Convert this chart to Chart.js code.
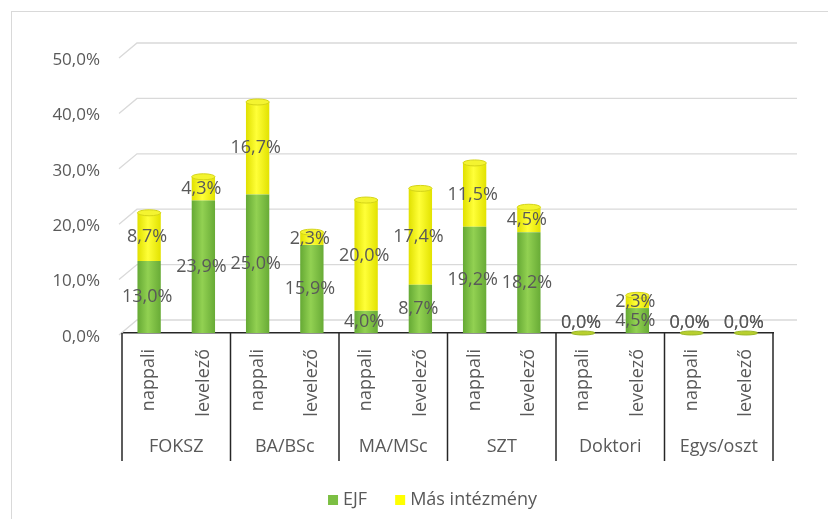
<!DOCTYPE html>
<html>
<head>
<meta charset="utf-8">
<script src="https://cdn.jsdelivr.net/npm/chart.js@4"></script>
<style>
  body { margin: 0; background: #fff; }
  #wrap { position: relative; width: 828px; height: 519px; }
  #frame { position: absolute; left: 11px; top: 11px; right: 0; bottom: 0;
           border-top: 1px solid #d9d9d9; border-left: 1px solid #d9d9d9; pointer-events: none; }
</style>
</head>
<body>
<div id="wrap">
  <canvas id="chart" width="828" height="519"></canvas>
  <div id="frame"></div>
</div>
<script>
// categories (inner level) and groups (outer level)
const categories = ["nappali", "levelező", "nappali", "levelező", "nappali", "levelező",
                    "nappali", "levelező", "nappali", "levelező", "nappali", "levelező"];
const groups = ["FOKSZ", "BA/BSc", "MA/MSc", "SZT", "Doktori", "Egys/oszt"];

// series values in percent
const ejf = [13.0, 23.9, 25.0, 15.9, 4.0, 8.7, 19.2, 18.2, 0.0, 4.5, 0.0, 0.0];
const masIntezmeny = [8.7, 4.3, 16.7, 2.3, 20.0, 17.4, 11.5, 4.5, 0.0, 2.3, 0.0, 0.0];

const yMax = 50;
const yStep = 10;

const FONT = "'Open Sans', Lato, sans-serif";
const TEXT = "#595959";
const BAR_PCT = 0.43;
const GREEN = "#7cbf43";
const YELLOW = "#ffff00";

function pct(v) {
  return v.toFixed(1).replace(".", ",") + "%";
}

// horizontal gradient to fake the cylinder look
function cylinder(stops, flat) {
  return function(c) {
    const xs = c.chart.scales.x;
    if (!xs || c.dataIndex === undefined) return flat;
    const cx = xs.getPixelForValue(c.dataIndex);
    const w = xs.width / categories.length * BAR_PCT;
    if (!isFinite(cx) || !isFinite(w) || w <= 0) return flat;
    const g = c.chart.ctx.createLinearGradient(cx - w / 2, 0, cx + w / 2, 0);
    g.addColorStop(0, stops[0]);
    g.addColorStop(0.45, stops[1]);
    g.addColorStop(1, stops[2]);
    return g;
  };
}

// back-wall gridlines with the little diagonal at the left
const wallGrid = {
  id: "wallGrid",
  beforeDatasetsDraw(chart) {
    const { ctx, chartArea } = chart;
    const ys = chart.scales.y;
    ctx.save();
    ctx.strokeStyle = "#d9d9d9";
    ctx.lineWidth = 1.3;
    ys.ticks.forEach(t => {
      const y = ys.getPixelForValue(t.value);
      ctx.beginPath();
      ctx.moveTo(chartArea.left - 3, y + 2);
      ctx.lineTo(chartArea.left + 15, y - 13);
      ctx.lineTo(chartArea.right + 24, y - 13);
      ctx.stroke();
    });
    ctx.restore();
  }
};

// top ellipses, value labels and group dividers
const decorations = {
  id: "decorations",
  afterDatasetsDraw(chart) {
    const { ctx, chartArea } = chart;
    const top = chart.getDatasetMeta(1).data;
    ctx.save();
    top.forEach((bar, i) => {
      const zero = ejf[i] + masIntezmeny[i] === 0;
      ctx.beginPath();
      ctx.ellipse(bar.x, bar.y, bar.width / 2, zero ? 2 : 3, 0, 0, Math.PI * 2);
      ctx.fillStyle = zero ? "#b8cf2e" : (masIntezmeny[i] > 0 ? "#f4f430" : "#8cc84e");
      ctx.fill();
      ctx.strokeStyle = zero ? "#9bb82a" : "#d4d418";
      ctx.lineWidth = 1;
      ctx.stroke();
    });

    ctx.font = "18px " + FONT;
    ctx.fillStyle = TEXT;
    ctx.textAlign = "center";
    ctx.textBaseline = "middle";
    chart.data.datasets.forEach((ds, di) => {
      chart.getDatasetMeta(di).data.forEach((bar, i) => {
        const y = (bar.y + bar.base) / 2 - (ds.data[i] === 0 ? 10 : 0);
        ctx.fillText(pct(ds.data[i]), bar.x - 2, y);
      });
    });

    const x2 = chart.scales.x2;
    ctx.strokeStyle = "#262626";
    ctx.lineWidth = 1.5;
    const step = chartArea.width / groups.length;
    for (let k = 0; k <= groups.length; k++) {
      const x = chartArea.left + k * step;
      ctx.beginPath();
      ctx.moveTo(x, chartArea.bottom);
      ctx.lineTo(x, x2.top + 40);
      ctx.stroke();
    }
    ctx.restore();
  }
};

// legend row below the group labels, spaced like the Excel one
const legendRow = {
  id: "legendRow",
  afterDraw(chart) {
    const { ctx, chartArea } = chart;
    const box = 10, gap = 5, spacing = 28;
    const y = chart.scales.x2.top + 79;
    ctx.save();
    ctx.font = "18px " + FONT;
    const items = chart.data.datasets.map(ds => ({ text: ds.label, color: ds.legendColor }));
    const widths = items.map(it => box + gap + ctx.measureText(it.text).width);
    const total = widths.reduce((a, b) => a + b, 0) + spacing * (items.length - 1);
    let x = (chartArea.left + chartArea.right) / 2 - 15 - total / 2;
    ctx.textBaseline = "middle";
    ctx.textAlign = "left";
    items.forEach((it, i) => {
      ctx.fillStyle = it.color;
      ctx.fillRect(x, y - box / 2, box, box);
      ctx.fillStyle = TEXT;
      ctx.fillText(it.text, x + box + gap, y);
      x += widths[i] + spacing;
    });
    ctx.restore();
  }
};

new Chart(document.getElementById("chart"), {
  type: "bar",
  data: {
    labels: categories,
    datasets: [
      {
        label: "EJF",
        data: ejf,
        legendColor: GREEN,
        backgroundColor: cylinder(["#65a934", "#92d152", "#68ab36"], GREEN),
        barPercentage: BAR_PCT,
        categoryPercentage: 1
      },
      {
        label: "Más intézmény",
        data: masIntezmeny,
        legendColor: YELLOW,
        backgroundColor: cylinder(["#e0e000", "#ffff38", "#e2e200"], YELLOW),
        barPercentage: BAR_PCT,
        categoryPercentage: 1
      }
    ]
  },
  options: {
    responsive: false,
    animation: false,
    layout: { padding: { left: 0, right: 55, top: 56, bottom: 58 } },
    plugins: {
      legend: { display: false },
      tooltip: { enabled: false }
    },
    scales: {
      x: {
        stacked: true,
        grid: { display: false, drawTicks: false },
        border: { display: true, color: "#262626", width: 1.5 },
        afterFit(scale) { scale.height = 88; },
        ticks: {
          minRotation: 90,
          maxRotation: 90,
          padding: 16,
          color: TEXT,
          font: { family: FONT, size: 18 }
        }
      },
      x2: {
        type: "category",
        labels: groups,
        position: "bottom",
        offset: true,
        grid: { display: false, drawTicks: false },
        border: { display: false },
        afterFit(scale) { scale.height = 40; },
        ticks: {
          padding: 15,
          color: TEXT,
          font: { family: FONT, size: 18 }
        }
      },
      y: {
        stacked: true,
        min: 0,
        max: yMax,
        grid: { display: false, drawTicks: false },
        border: { display: false },
        afterFit(scale) { scale.width = 122; },
        ticks: {
          stepSize: yStep,
          padding: 22,
          labelOffset: 4,
          color: TEXT,
          font: { family: FONT, size: 17 },
          callback: v => pct(v)
        }
      }
    }
  },
  plugins: [wallGrid, decorations, legendRow]
});
</script>
</body>
</html>
